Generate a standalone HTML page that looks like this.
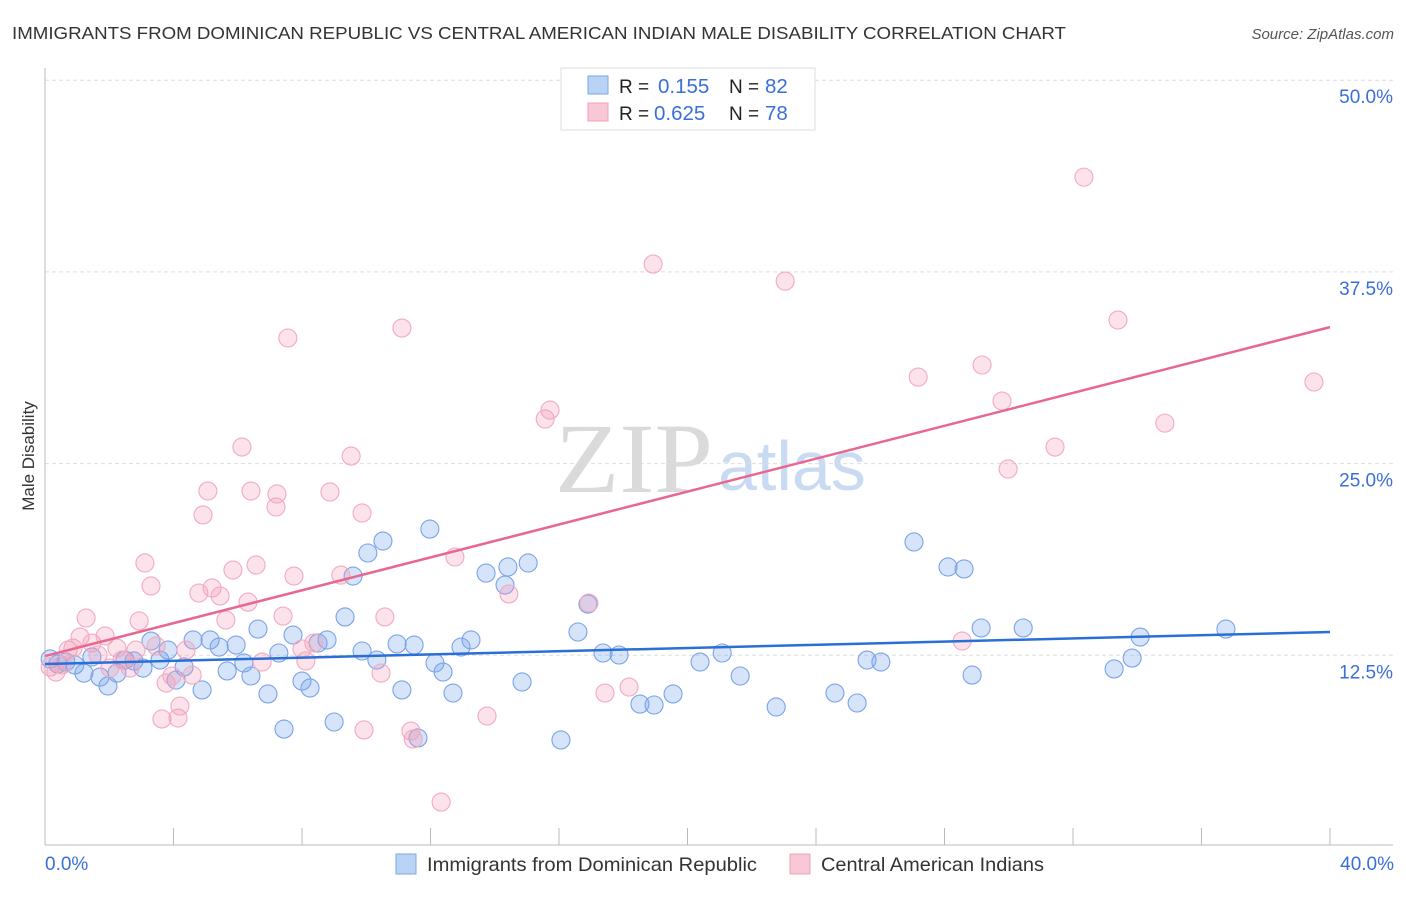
<!DOCTYPE html>
<html><head><meta charset="utf-8"><style>
body{margin:0;background:#fff;font-family:"Liberation Sans",sans-serif}
</style></head><body>
<svg id="chart" width="1406" height="892" xmlns="http://www.w3.org/2000/svg" font-family="Liberation Sans, sans-serif">
<text x="12" y="39" font-size="17.5" fill="#333" textLength="1054" lengthAdjust="spacingAndGlyphs">IMMIGRANTS FROM DOMINICAN REPUBLIC VS CENTRAL AMERICAN INDIAN MALE DISABILITY CORRELATION CHART</text>
<text x="1394" y="39" font-size="15" fill="#555" font-style="italic" text-anchor="end">Source: ZipAtlas.com</text>
<text x="555" y="492" font-size="100" fill="#dadada" font-family="Liberation Serif, serif" textLength="158" lengthAdjust="spacingAndGlyphs">ZIP</text>
<text x="718" y="490" font-size="70" fill="#c9dbf3">atlas</text>
<g id="grid"></g>
<g id="axes"></g>
<g id="pts"></g>
<g id="lines"></g>
<text x="34" y="456" font-size="17" fill="#333" text-anchor="middle" transform="rotate(-90 34 456)">Male Disability</text>
<text x="45" y="870" font-size="19" fill="#3a6fd8">0.0%</text>
<text x="1394" y="870" font-size="19" fill="#3a6fd8" text-anchor="end">40.0%</text>
<g>
<rect x="561" y="68" width="254" height="62" fill="#fff" stroke="#ddd"/>
<rect x="588" y="76" width="20" height="18" fill="#b9d3f5" stroke="#7aa6e6"/>
<rect x="588" y="103" width="20" height="18" fill="#f9c8d6" stroke="#f0a0b8"/>
<text x="619" y="93" font-size="19" fill="#222">R =</text>
<text x="658" y="93" font-size="20.5" fill="#3a6fd8">0.155</text>
<text x="729" y="93" font-size="19" fill="#222">N =</text>
<text x="765" y="93" font-size="20.5" fill="#3a6fd8">82</text>
<text x="619" y="120" font-size="19" fill="#222">R =</text>
<text x="654" y="120" font-size="20.5" fill="#3a6fd8">0.625</text>
<text x="729" y="120" font-size="19" fill="#222">N =</text>
<text x="765" y="120" font-size="20.5" fill="#3a6fd8">78</text>
</g>
<g>
<rect x="396" y="854" width="20" height="20" fill="#b9d3f5" stroke="#7aa6e6"/>
<text x="427" y="871" font-size="19.5" fill="#333" textLength="330" lengthAdjust="spacingAndGlyphs">Immigrants from Dominican Republic</text>
<rect x="790" y="854" width="20" height="20" fill="#f9c8d6" stroke="#f0a0b8"/>
<text x="821" y="871" font-size="19.5" fill="#333" textLength="223" lengthAdjust="spacingAndGlyphs">Central American Indians</text>
</g>
</svg>
<script>
const yTicks=[12.5,25,37.5,50];
const yTickLabels=["12.5%","25.0%","37.5%","50.0%"];
const xTicks=[0,4,8,12,16,20,24,28,32,36,40];
const blueX=[0.16,0.40,0.65,0.93,1.21,1.46,1.71,1.96,2.24,2.49,2.77,3.05,3.30,3.58,3.83,4.08,4.33,4.61,4.89,5.14,5.42,5.67,5.95,6.19,6.41,6.63,6.94,7.28,7.44,7.72,8.00,8.25,8.50,8.78,9.00,9.34,9.59,9.87,10.05,10.33,10.52,10.96,11.11,11.49,11.61,11.98,12.14,12.39,12.70,12.95,13.26,13.73,14.32,14.41,14.85,15.04,16.06,16.59,16.90,17.37,17.87,18.52,18.96,19.55,20.39,21.08,21.64,22.76,24.59,25.28,25.59,26.02,27.05,28.11,28.61,28.86,29.14,30.45,33.28,33.84,34.09,36.76];
const blueY=[12.26,11.93,12.06,11.87,11.34,12.39,11.08,10.50,11.34,12.19,12.13,11.67,13.43,12.19,12.84,10.89,11.74,13.50,10.24,13.50,13.04,11.48,13.17,12.00,11.15,14.21,9.98,12.65,7.69,13.82,10.82,10.37,13.30,13.50,8.15,15.00,17.67,12.78,19.17,12.19,19.95,13.24,10.24,13.17,7.11,20.73,12.00,11.41,10.04,13.04,13.50,17.86,17.08,18.26,10.76,18.52,6.98,14.02,15.84,12.65,12.52,9.32,9.26,9.98,12.06,12.65,11.15,9.13,10.04,9.39,12.19,12.06,19.89,18.26,18.13,11.21,14.28,14.28,11.61,12.32,13.69,14.21];
const pinkX=[0.16,0.34,0.53,0.72,0.87,1.09,1.28,1.46,1.65,1.87,2.02,2.24,2.40,2.65,2.83,2.93,3.11,3.30,3.46,3.64,3.77,3.95,4.14,4.20,4.39,4.58,4.79,4.92,5.07,5.20,5.45,5.63,5.85,6.13,6.32,6.41,6.57,6.76,7.19,7.22,7.41,7.56,7.75,8.00,8.12,8.37,8.87,9.21,9.53,9.87,9.93,10.46,10.58,11.11,11.39,11.46,12.33,12.76,13.76,14.44,15.57,15.72,16.93,17.43,18.18,18.93,23.04,27.18,28.55,29.17,29.79,29.98,31.44,32.34,33.40,34.86,39.50];
const pinkY=[11.74,11.41,11.87,12.84,12.97,13.69,14.93,13.30,12.52,13.76,11.67,12.97,12.19,11.67,12.84,14.74,18.52,17.02,13.11,8.35,10.69,11.15,8.41,9.19,12.84,11.21,16.56,21.65,23.21,16.89,16.37,14.80,18.06,26.08,15.97,23.21,18.39,12.06,22.17,23.02,15.06,33.19,17.67,12.91,12.13,13.30,23.15,17.73,25.49,21.78,7.63,11.34,15.00,33.84,7.56,7.04,2.93,18.91,8.54,16.50,27.91,28.49,15.91,10.04,10.43,38.01,36.90,30.64,13.43,31.43,29.08,24.65,26.08,43.68,34.36,27.64,30.32];
const blueTrend=[11.93,14.02];
const pinkTrend=[12.45,33.9];
const NS="http://www.w3.org/2000/svg";
function sx(v){return 45+v/40*1285;}
function sy(v){return 847-v/12.5*191.7;}
function mk(tag,attrs,parent){const e=document.createElementNS(NS,tag);for(const k in attrs)e.setAttribute(k,attrs[k]);parent.appendChild(e);return e;}
const grid=document.getElementById('grid'),axes=document.getElementById('axes'),pts=document.getElementById('pts'),lines=document.getElementById('lines');
yTicks.forEach((t,i)=>{
 const l=mk('line',{x1:45,x2:1393,y1:sy(t),y2:sy(t),stroke:'#ddd','stroke-dasharray':'4 3'},grid);
 
 
 const tx=mk('text',{x:1393,y:sy(t)+23,'font-size':19,fill:'#3a6fd8','text-anchor':'end'},grid);
 tx.textContent=yTickLabels[i];
 
 
});
const ya=mk('line',{x1:45,x2:45,y1:68,y2:845,stroke:'#bbb'},axes);


const xa=mk('line',{x1:45,x2:1393,y1:845,y2:845,stroke:'#bbb'},axes);


xTicks.forEach(t=>{
 const l=mk('line',{x1:sx(t),x2:sx(t),y1:828,y2:845,stroke:'#bbb'},axes);
 
 
});
blueX.forEach((v,i)=>{
 const c=mk('circle',{cx:sx(v),cy:sy(blueY[i]),r:9,fill:'rgba(120,165,235,0.3)',stroke:'#7aa3e8','stroke-width':1.1},pts);
 
 
});
pinkX.forEach((v,i)=>{
 const c=mk('circle',{cx:sx(v),cy:sy(pinkY[i]),r:9,fill:'rgba(245,150,180,0.28)',stroke:'#f2aac0','stroke-width':1.1},pts);
 
 
});
const bl=mk('line',{x1:sx(0),x2:sx(40),y1:sy(blueTrend[0]),y2:sy(blueTrend[1]),stroke:'#2a6fd6','stroke-width':2.5},lines);


const pl=mk('line',{x1:sx(0),x2:sx(40),y1:sy(pinkTrend[0]),y2:sy(pinkTrend[1]),stroke:'#e86790','stroke-width':2.5},lines);


</script>
</body></html>
